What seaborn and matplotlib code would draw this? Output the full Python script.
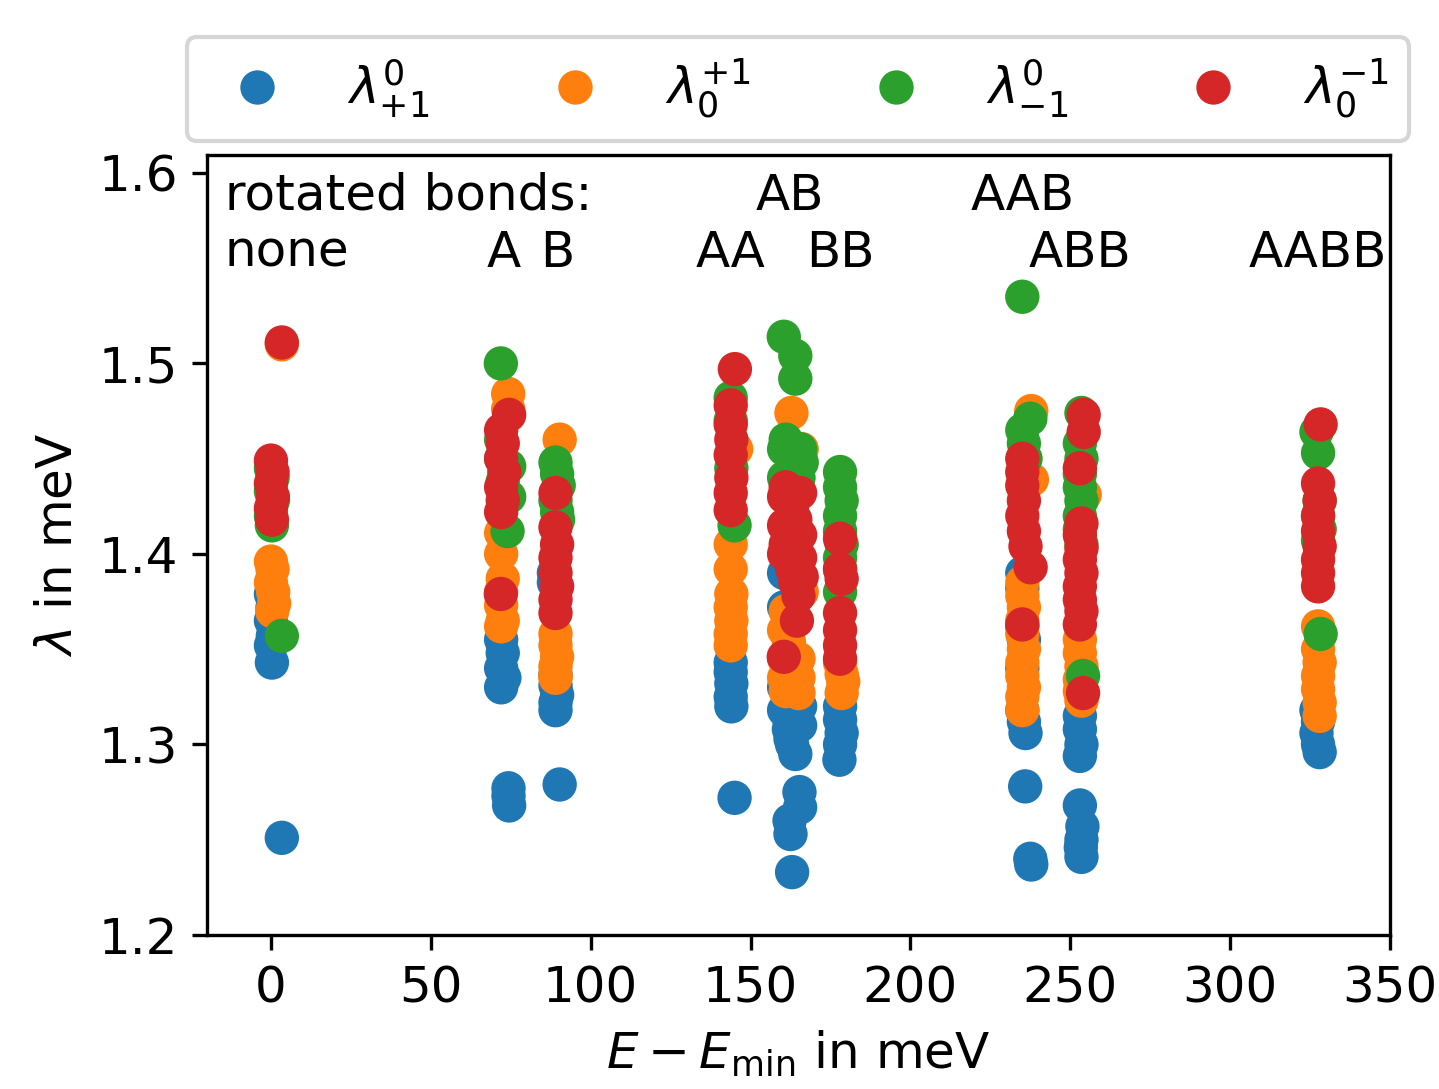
import matplotlib
matplotlib.use("Agg")
import matplotlib.pyplot as plt
import seaborn as sns
import pandas as pd

# ---- data ----
series_labels = [r"$\lambda^{0}_{+1}$", r"$\lambda^{+1}_{0}$", r"$\lambda^{0}_{-1}$", r"$\lambda^{-1}_{0}$"]
series_colors = ["#1f77b4", "#ff7f0e", "#2ca02c", "#d62728"]

# lambda^0_{+1} (blue)
e_blue = [0, 0.5, 0, 0.6, 0, 0.3, 3.4,
          72, 72.5, 72, 73, 72, 74.3, 74.3, 74.5,
          88.5, 88.5, 89, 89, 89.5, 89, 89, 90.3,
          143.8, 143.8, 144, 143.8, 144, 145,
          160.5, 160.5, 160.5, 160.5, 165.5, 165.5, 162, 162, 162.5, 163, 164, 165.3, 165.5, 162.2, 162.5, 163,
          178, 178, 178.5, 178, 177.8,
          235, 235, 235, 235.5, 235, 235, 235.5, 236, 235.9, 237.5, 237.8,
          253, 253, 253.5, 253, 253, 253.8, 253.3, 253.5, 253.5,
          327, 327.5, 327, 327.5, 328]
lam_blue = [1.379, 1.372, 1.365, 1.357, 1.352, 1.343, 1.251,
            1.355, 1.348, 1.340, 1.335, 1.330, 1.277, 1.273, 1.268,
            1.390, 1.385, 1.337, 1.331, 1.326, 1.322, 1.318, 1.279,
            1.343, 1.338, 1.332, 1.325, 1.320, 1.272,
            1.390, 1.372, 1.330, 1.318, 1.320, 1.310, 1.314, 1.308, 1.303, 1.300, 1.295, 1.275, 1.267, 1.260, 1.253, 1.233,
            1.320, 1.313, 1.306, 1.300, 1.292,
            1.390, 1.382, 1.362, 1.355, 1.340, 1.318, 1.312, 1.306, 1.278, 1.240, 1.237,
            1.315, 1.308, 1.300, 1.294, 1.268, 1.257, 1.246, 1.241, 1.250,
            1.318, 1.312, 1.306, 1.300, 1.296]

# lambda^{+1}_0 (orange)
e_orange = [0, 0.5, 0, 0.7, 1.0, 0.4, 3.4,
            74.2, 74.2, 72, 72, 72.5, 72, 72, 72.5, 72,
            90.3, 89, 89, 89.5, 89, 89, 89,
            145.5, 143.8, 143.8, 144, 143.8, 144, 143.8, 143.8,
            162.8, 166, 166, 161, 160.5, 160.5, 160.5, 165, 165, 162, 162, 163, 164, 161, 165, 162,
            178, 178.5, 179, 178.5,
            237.8, 238, 235, 235, 235.5, 235, 235, 235.5, 235, 235, 235.5, 235, 235,
            254.5, 253, 253, 253.5, 253, 253, 253.5,
            327.5, 327.5, 328, 327.5, 327.5, 328, 328]
lam_orange = [1.396, 1.392, 1.385, 1.380, 1.374, 1.370, 1.510,
              1.484, 1.476, 1.411, 1.400, 1.387, 1.380, 1.373, 1.365, 1.362,
              1.460, 1.358, 1.352, 1.346, 1.341, 1.336, 1.335,
              1.455, 1.405, 1.392, 1.379, 1.372, 1.365, 1.358, 1.352,
              1.474, 1.455, 1.380, 1.370, 1.360, 1.345, 1.335, 1.345, 1.335, 1.354, 1.348, 1.340, 1.333, 1.328, 1.327, 1.336,
              1.343, 1.337, 1.333, 1.327,
              1.475, 1.439, 1.385, 1.378, 1.372, 1.365, 1.358, 1.350, 1.343, 1.336, 1.330, 1.325, 1.318,
              1.431, 1.355, 1.348, 1.341, 1.334, 1.328, 1.323,
              1.362, 1.350, 1.343, 1.336, 1.329, 1.322, 1.315]

# lambda^0_{-1} (green)
e_green = [0, 0.5, 0, 0.6, 0, 0.3, 3.4,
           71.9, 74.5, 72, 72, 72.5, 74, 74.5,
           89, 89.5, 90, 89, 89.5, 89.8,
           143.8, 143.8, 144, 145,
           160.4, 164, 164, 160.5, 165.5, 160.5, 166, 161, 162, 163, 164, 165, 162, 163,
           178, 178, 178.5, 178, 178, 178.5, 178, 178, 178,
           235, 237.5, 235, 235.5, 236,
           253.5, 253, 253.5, 253, 253, 253.5, 253, 253, 253.5, 254,
           327, 327.5, 328, 327.5, 328, 327.5, 328.3]
lam_green = [1.445, 1.440, 1.433, 1.428, 1.420, 1.415, 1.357,
             1.500, 1.446, 1.460, 1.450, 1.438, 1.412, 1.430,
             1.448, 1.442, 1.436, 1.428, 1.422, 1.418,
             1.482, 1.470, 1.445, 1.415,
             1.514, 1.504, 1.492, 1.455, 1.455, 1.440, 1.448, 1.460, 1.455, 1.450, 1.445, 1.440, 1.435, 1.430,
             1.443, 1.435, 1.428, 1.420, 1.412, 1.405, 1.398, 1.392, 1.380,
             1.535, 1.471, 1.465, 1.458, 1.450,
             1.474, 1.458, 1.450, 1.442, 1.435, 1.428, 1.420, 1.413, 1.405, 1.336,
             1.464, 1.453, 1.428, 1.420, 1.413, 1.407, 1.358]

# lambda^{-1}_0 (red)
e_red = [0, 0.5, 0, 0.6, 0, 0.3, 3.4,
         74.5, 72, 72.5, 72, 73, 72, 72.5, 72, 71.9,
         89, 89, 89.5, 89, 89, 89.5, 89, 89,
         145.1, 143.8, 143.8, 144, 143.8, 144, 143.8, 143.8,
         160.5, 160.5, 160.5, 165.5, 165.5, 165.5, 166,
         161, 162, 163, 164, 165, 161, 162, 163, 164, 165, 164.5, 160.4,
         178, 178, 178.5, 178, 178, 178, 178,
         235, 235, 235, 235.5, 235, 235.5, 236, 237.6, 235,
         254.2, 254.2, 253, 253.5, 253, 253.5, 253, 253.5, 253, 253, 253.5, 253, 254,
         328.3, 327.5, 328, 327.5, 327.5, 328, 327.5, 327.5, 327.5]
lam_red = [1.449, 1.443, 1.437, 1.430, 1.424, 1.418, 1.511,
           1.473, 1.465, 1.458, 1.450, 1.443, 1.435, 1.428, 1.422, 1.379,
           1.432, 1.414, 1.405, 1.398, 1.390, 1.383, 1.376, 1.369,
           1.497, 1.478, 1.468, 1.460, 1.452, 1.440, 1.432, 1.423,
           1.430, 1.415, 1.400, 1.432, 1.410, 1.398, 1.388,
           1.435, 1.430, 1.425, 1.418, 1.410, 1.405, 1.398, 1.392, 1.385, 1.378, 1.365, 1.346,
           1.408, 1.392, 1.387, 1.369, 1.360, 1.352, 1.345,
           1.450, 1.443, 1.436, 1.428, 1.420, 1.412, 1.404, 1.393, 1.363,
           1.473, 1.464, 1.445, 1.416, 1.410, 1.403, 1.397, 1.390, 1.383, 1.376, 1.370, 1.363, 1.327,
           1.468, 1.437, 1.428, 1.420, 1.412, 1.404, 1.397, 1.390, 1.383]

# group annotations
group_names = ["A", "B", "AA", "AB", "BB", "AAB", "ABB", "AABB"]
group_energy = [72.8, 89.4, 143.9, 162.2, 178.0, 235.0, 253.0, 327.5]
group_row = [1, 1, 1, 0, 1, 0, 1, 1]

# ---- build long table ----
frames = []
for lab, ex, ly in zip(series_labels,
                       [e_blue, e_orange, e_green, e_red],
                       [lam_blue, lam_orange, lam_green, lam_red]):
    frames.append(pd.DataFrame({"E": ex, "lam": ly, "series": lab}))
df = pd.concat(frames, ignore_index=True)

fig = plt.figure(figsize=(1439 / 300, 1089 / 300), dpi=300)
ax = fig.add_axes([207 / 1439, 1 - 935 / 1089, (1390 - 207) / 1439, (935 - 155) / 1089])

sns.scatterplot(data=df, x="E", y="lam", hue="series", hue_order=series_labels,
                palette=series_colors, s=68, linewidth=0, edgecolor="none", ax=ax)

ax.set_xlim(-20, 350)
ax.set_ylim(1.2, 1.6094)
ax.set_xticks([0, 50, 100, 150, 200, 250, 300, 350])
ax.set_yticks([1.2, 1.3, 1.4, 1.5, 1.6])
ax.set_xlabel(r"$E - E_\mathrm{min}$ in meV", fontsize=12)
ax.set_ylabel(r"$\lambda$ in meV", fontsize=12)
ax.tick_params(labelsize=12)

row_y = [1.588, 1.558]
ax.text(-14.4, row_y[0], "rotated bonds:", ha="left", va="center", fontsize=12)
ax.text(-14.4, row_y[1], "none", ha="left", va="center", fontsize=12)
for name, e, r in zip(group_names, group_energy, group_row):
    ax.text(e, row_y[r], name, ha="center", va="center", fontsize=12)

handles, labels = ax.get_legend_handles_labels()
ax.get_legend().remove()
leg = ax.legend(handles, labels, loc="center", bbox_to_anchor=(0.4996, 1.0846),
                ncol=4, fontsize=12, columnspacing=1.9, markerscale=1.0,
                frameon=True)

fig.savefig("out.png", dpi=300)
